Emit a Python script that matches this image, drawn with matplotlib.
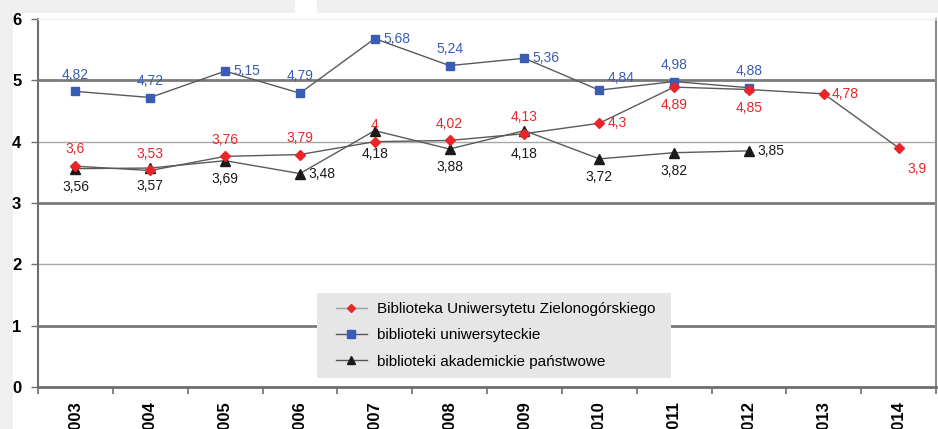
"""Line chart: average ratings of libraries 2003-2014."""

import matplotlib.pyplot as plt
from matplotlib.patches import Rectangle
from matplotlib.lines import Line2D

years = ['2003', '2004', '2005', '2006', '2007', '2008', '2009',
         '2010', '2011', '2012', '2013', '2014']

uz_values = [3.6, 3.53, 3.76, 3.79, 4.0, 4.02, 4.13, 4.3, 4.89, 4.85, 4.78, 3.9]
univ_values = [4.82, 4.72, 5.15, 4.79, 5.68, 5.24, 5.36, 4.84, 4.98, 4.88]
acad_values = [3.56, 3.57, 3.69, 3.48, 4.18, 3.88, 4.18, 3.72, 3.82, 3.85]

series_names = ['Biblioteka Uniwersytetu Zielonogórskiego',
                'biblioteki uniwersyteckie',
                'biblioteki akademickie państwowe']

# label placement per point: a = above, b = below, bb = further below, r = right
uz_pos = ['a', 'a', 'a', 'a', 'a', 'a', 'a', 'r', 'b', 'b', 'r', 'br']
univ_pos = ['a', 'a', 'r', 'a', 'r', 'a', 'r', 'ar', 'a', 'a']
acad_pos = ['b', 'b', 'b', 'r', 'bb', 'b', 'bb', 'b', 'b', 'r']

red = '#e8262a'
blue = '#3a5cb4'
black = '#1a1a1a'
line_gray = '#5a5a5a'

plt.rcParams['font.family'] = ['Liberation Sans', 'DejaVu Sans']

fig = plt.figure(figsize=(9.38, 4.29), dpi=100)
fig.patch.set_facecolor('#efefef')
W, H = 938, 429
# white page area with the small gap at top
fig.add_artist(Rectangle((13 / W, 0), 1, (H - 13) / H, transform=fig.transFigure,
                         facecolor='white', edgecolor='none', zorder=0))
fig.add_artist(Rectangle((295 / W, 0), 22 / W, 1, transform=fig.transFigure,
                         facecolor='white', edgecolor='none', zorder=0))

ax = fig.add_axes([38 / W, 42 / H, 898 / W, 368 / H])
ax.set_facecolor('white')
ax.set_xlim(-0.5, len(years) - 0.5)
ax.set_ylim(0, 6)

# gridlines (heavy and light alternate, like the scan)
for yv in [5, 3, 1]:
    ax.axhline(yv, color='#7a7a7a', lw=2.0, zorder=1)
for yv in [4, 2]:
    ax.axhline(yv, color='#a8a8a8', lw=1.0, zorder=1)

ax.spines['top'].set_color('#eeeeee')
ax.spines['top'].set_linewidth(1)
ax.spines['left'].set_color('#6e6e6e')
ax.spines['left'].set_linewidth(1.5)
ax.spines['bottom'].set_color('#6e6e6e')
ax.spines['bottom'].set_linewidth(2)
ax.spines['right'].set_color('#8a8a8a')
ax.spines['right'].set_linewidth(1.5)

x_uz = list(range(len(uz_values)))
x_univ = list(range(len(univ_values)))
x_acad = list(range(len(acad_values)))

ax.plot(x_univ, univ_values, color=line_gray, lw=1.0, marker='s', ms=6,
        mfc=blue, mec=blue, zorder=3)
ax.plot(x_acad, acad_values, color=line_gray, lw=1.0, marker='^', ms=6.5,
        mfc=black, mec=black, zorder=3)
ax.plot(x_uz, uz_values, color=line_gray, lw=1.0, marker='D', ms=5,
        mfc=red, mec=red, zorder=4)

offsets = {'a': (0, 7, 'center', 'bottom'),
           'ar': (16, 4, 'center', 'bottom'),
           'b': (0, -8, 'center', 'top'),
           'bb': (0, -12, 'center', 'top'),
           'r': (6, 0, 'left', 'center'),
           'br': (6, -10, 'left', 'top')}


def label_points(xs, vals, positions, color):
    for xv, v, p in zip(xs, vals, positions):
        dx, dy, ha, va = offsets[p]
        txt = ('%g' % v).replace('.', ',')
        ax.annotate(txt, (xv, v), xytext=(dx, dy), textcoords='offset points',
                    ha=ha, va=va, fontsize=10, color=color, zorder=5)


label_points(x_univ, univ_values, univ_pos, blue)
label_points(x_uz, uz_values, uz_pos, red)
label_points(x_acad, acad_values, acad_pos, black)

# ticks: y labels bold on left, x tick marks at category boundaries
ax.set_yticks(range(0, 7))
ax.set_yticklabels([str(v) for v in range(0, 7)], fontsize=12, fontweight='bold')
ax.tick_params(axis='y', length=5, width=1, color='#6e6e6e', pad=7)

ax.set_xticks(range(len(years)))
ax.set_xticklabels(years, rotation=90, fontsize=12, fontweight='bold')
ax.set_xticks([i - 0.5 for i in range(len(years) + 1)], minor=True)
ax.tick_params(axis='x', which='major', length=0, pad=10)
ax.tick_params(axis='x', which='minor', length=5, width=1.2, color='#6e6e6e')

# legend: grey panel drawn separately so the handles sit inset from its edge
ax.add_patch(Rectangle(((317 - 38) / 898, (387 - 378) / 368),
                       (671 - 317) / 898, (378 - 293) / 368,
                       transform=ax.transAxes, facecolor='#e6e6e6',
                       edgecolor='none', zorder=5))
handles = [
    Line2D([], [], color='#a0a0a0', lw=1, marker='D', ms=4, mfc=red, mec=red),
    Line2D([], [], color='#555555', lw=1, marker='s', ms=5.5, mfc=blue, mec=blue),
    Line2D([], [], color='#555555', lw=1, marker='^', ms=5.5, mfc=black, mec=black),
]
leg = ax.legend(handles, series_names, loc='upper left',
                bbox_to_anchor=((330 - 38) / 898, (387 - 296) / 368),
                fontsize=11, frameon=False, handlelength=2.0,
                borderaxespad=0, labelspacing=0.8, borderpad=0.4,
                handletextpad=0.7)
leg.set_zorder(6)

fig.savefig('out.png', dpi=100, facecolor=fig.get_facecolor())
